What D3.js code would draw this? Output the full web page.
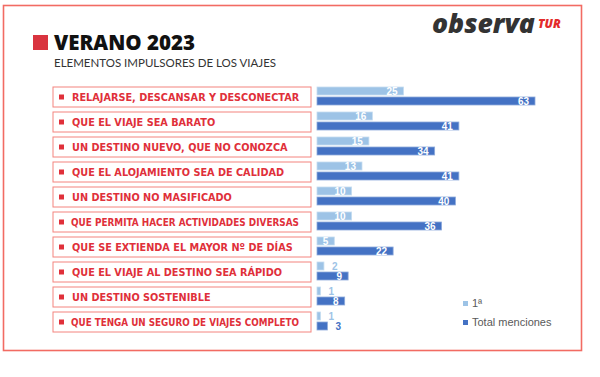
<!DOCTYPE html>
<html><head><meta charset="utf-8">
<script src="https://cdn.jsdelivr.net/npm/d3@7"></script>
<style>body{margin:0;background:#fff}svg{display:block}</style>
</head><body>
<script>
const categories = [
  "RELAJARSE, DESCANSAR Y DESCONECTAR",
  "QUE EL VIAJE SEA BARATO",
  "UN DESTINO NUEVO, QUE NO CONOZCA",
  "QUE EL ALOJAMIENTO SEA DE CALIDAD",
  "UN DESTINO NO MASIFICADO",
  "QUE PERMITA HACER ACTIVIDADES DIVERSAS",
  "QUE SE EXTIENDA EL MAYOR Nº DE DÍAS",
  "QUE EL VIAJE AL DESTINO SEA RÁPIDO",
  "UN DESTINO SOSTENIBLE",
  "QUE TENGA UN SEGURO DE VIAJES COMPLETO"
];
const primera = [25, 16, 15, 13, 10, 10, 5, 2, 1, 1];
const totalMenciones = [63, 41, 34, 41, 40, 36, 22, 9, 8, 3];
const seriesNames = ["1ª", "Total menciones"];
const title = "VERANO 2023";
const subtitle = "ELEMENTOS IMPULSORES DE LOS VIAJES";

const W = 600, H = 377;
const svg = d3.select("body").append("svg").attr("width", W).attr("height", H);

const lightBlue = "#9dc3e6", darkBlue = "#4472c4";
const red = "#e0303a";

// outer frame
svg.append("rect").attr("x", 3.5).attr("y", 5.5).attr("width", 578).attr("height", 345)
  .attr("fill", "none").attr("stroke", "#f26b63").attr("stroke-width", 1.6);

// title
svg.append("rect").attr("x", 33).attr("y", 35).attr("width", 15).attr("height", 15).attr("fill", "#d9343f");
svg.append("text").attr("x", 54).attr("y", 50).text(title)
  .attr("font-family", "Open Sans").attr("font-weight", 800).attr("font-size", 20.5).attr("fill", "#111");
svg.append("text").attr("x", 54).attr("y", 67).text(subtitle)
  .attr("font-family", "Lato").attr("font-size", 11.5).attr("fill", "#333");

// logo
svg.append("text").attr("x", 432).attr("y", 33).text("observa")
  .attr("font-family", "Open Sans").attr("font-weight", 800).attr("font-style", "italic")
  .attr("font-size", 26.5).attr("fill", "#333");
svg.append("text").attr("x", 538).attr("y", 28).text("TUR")
  .attr("font-family", "Open Sans").attr("font-weight", 800).attr("font-style", "italic")
  .attr("font-size", 12).attr("fill", "#e32b2b");

// scales
const y = d3.scaleBand().domain(categories).range([87, 87 + 25 * categories.length]);
const sub = d3.scaleBand().domain(seriesNames).range([0, 18]).paddingInner(0.2);
const x = d3.scaleLinear().domain([0, 63]).range([317, 535]);

const rows = categories.map((c, i) => ({c, vals: [primera[i], totalMenciones[i]]}));

// label boxes
const lbl = svg.append("g").selectAll("g").data(rows).join("g")
  .attr("transform", d => `translate(0,${y(d.c)})`);
lbl.append("rect").attr("x", 53).attr("y", 0).attr("width", 258).attr("height", 20)
  .attr("fill", "#fff").attr("stroke", "#f4847e").attr("stroke-width", 1);
lbl.append("rect").attr("x", 59).attr("y", 7.5).attr("width", 5).attr("height", 5).attr("fill", red);
lbl.append("text").attr("x", 72).attr("y", 14).text(d => d.c)
  .attr("font-family", "DejaVu Sans").attr("font-stretch", "condensed").attr("font-weight", "bold")
  .attr("font-size", 10.8).attr("fill", red)
  .each(function () {
    const maxW = 228;
    if (this.getComputedTextLength() > maxW) {
      d3.select(this).attr("x", 71).attr("textLength", maxW).attr("lengthAdjust", "spacingAndGlyphs");
    }
  });

// bars
const colors = [lightBlue, darkBlue];
const bars = svg.append("g").selectAll("g").data(rows).join("g")
  .attr("transform", d => `translate(0,${y(d.c)})`);
bars.selectAll("rect").data(d => d.vals.map((v, k) => ({v, k}))).join("rect")
  .attr("x", x(0)).attr("y", d => sub(seriesNames[d.k]))
  .attr("width", d => x(d.v) - x(0)).attr("height", sub.bandwidth())
  .attr("fill", d => colors[d.k]).attr("stroke", d => d.k ? "#8eaadb" : "#c5dcf0").attr("stroke-width", 0.8);
bars.selectAll("text").data(d => d.vals.map((v, k) => ({v, k}))).join("text")
  .attr("x", d => (x(d.v) - x(0) > 15) ? x(d.v) - 6 : x(d.v) + 8)
  .attr("text-anchor", d => (x(d.v) - x(0) > 15) ? "end" : "start")
  .attr("y", d => sub(seriesNames[d.k]) + 7.5)
  .attr("fill", d => (x(d.v) - x(0) > 15) ? "#fff" : colors[d.k])
  .attr("font-family", "Liberation Sans").attr("font-weight", "bold").attr("font-size", 10)
  .text(d => d.v);

// legend
const leg = svg.append("g").selectAll("g").data(seriesNames).join("g")
  .attr("transform", (d, i) => `translate(463,${301 + i * 19})`);
leg.append("rect").attr("width", 5).attr("height", 5).attr("fill", (d, i) => colors[i]);
leg.append("text").attr("x", 9).attr("y", 5.5).text(d => d)
  .attr("font-family", "Liberation Sans").attr("font-size", 11).attr("fill", "#595959");
</script>
</body></html>
